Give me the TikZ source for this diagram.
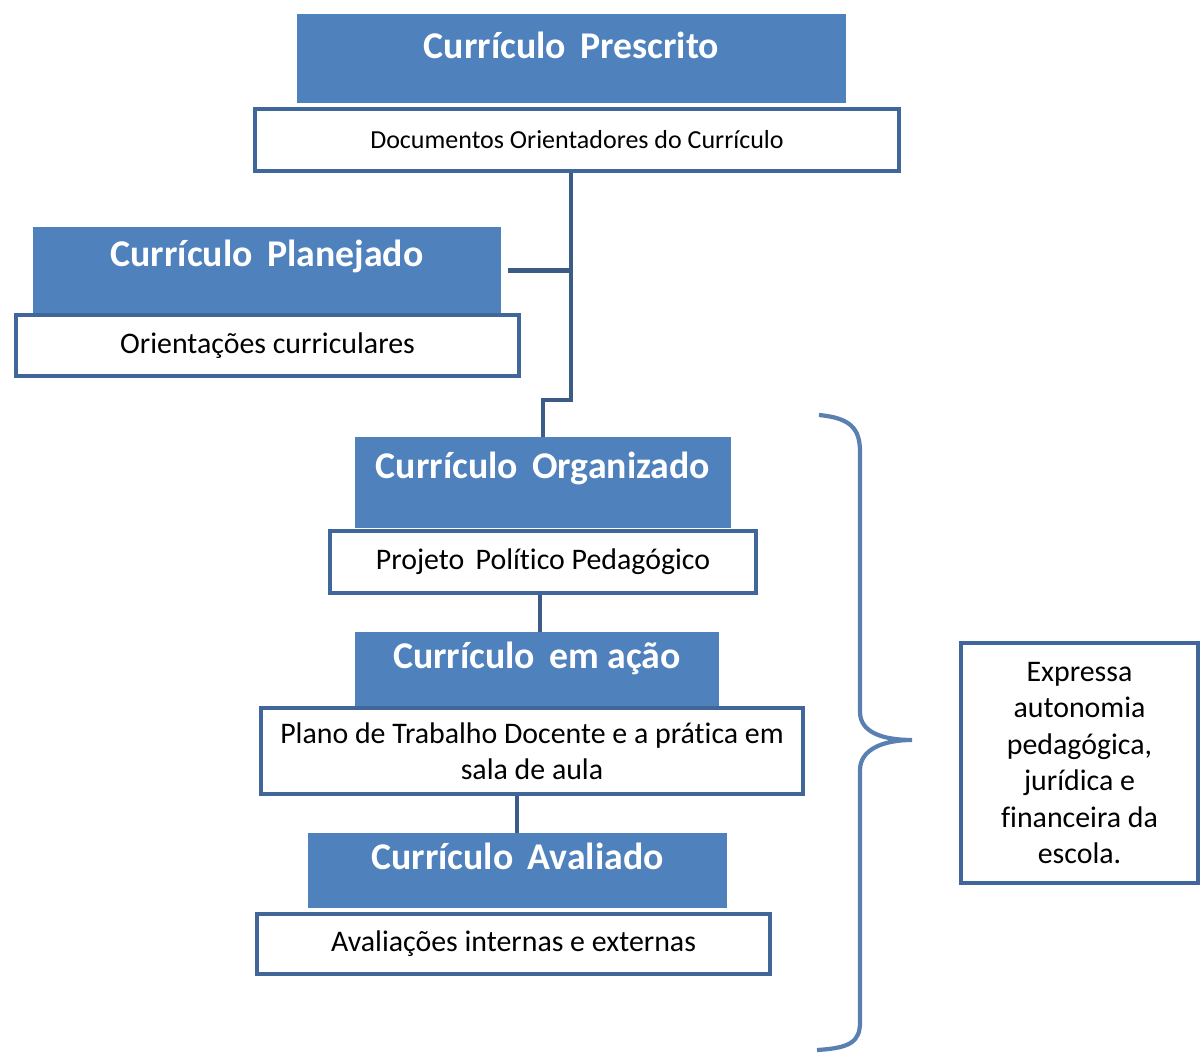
\documentclass[tikz,border=0pt]{standalone}
\usepackage{fontspec}
\setmainfont{Carlito}[Ligatures=NoCommon]
\usepackage{tikz}

\definecolor{headblue}{HTML}{4F81BD}
\definecolor{edgeblue}{HTML}{41679A}
\definecolor{linkblue}{HTML}{3C5C86}
\definecolor{braceblue}{HTML}{5A80B2}

\newcommand{\gap}{\hspace{0.38em}}

\begin{document}
\begin{tikzpicture}[x=0.02cm,y=-0.02cm,
		head/.style={fill=headblue,draw=none,inner sep=0pt},
		headtext/.style={text=white,font=\fontsize{21.5}{24}\selectfont\bfseries},
		sub/.style={fill=white,draw=edgeblue,line width=2.3pt,inner sep=2pt,align=center,
			font=\fontsize{17}{20.5}\selectfont},
		link/.style={draw=linkblue,line width=2.4pt}]
		\useasboundingbox (0,0) rectangle (1202,1053);
		% blue headers
		\node[head,minimum width=10.98cm,minimum height=1.78cm,
			label={[headtext,yshift=0.26cm]center:Currículo\gap Prescrito}] (pres) at (571.5,58.5) {};
		\node[head,minimum width=9.36cm,minimum height=1.74cm,
			label={[headtext,yshift=0.28cm]center:Currículo\gap Planejado}] (plan) at (267,270.5) {};
		\node[head,minimum width=7.52cm,minimum height=1.82cm,
			label={[headtext,yshift=0.28cm]center:Currículo\gap Organizado}] (org) at (543,482.5) {};
		\node[head,minimum width=7.28cm,minimum height=1.48cm,
			label={[headtext,yshift=0.22cm]center:Currículo\gap em ação}] (acao) at (537,669) {};
		\node[head,minimum width=8.38cm,minimum height=1.50cm,
			label={[headtext,yshift=0.28cm]center:Currículo\gap Avaliado}] (aval) at (517.5,870.5) {};
		% white boxes
		\node[sub,minimum width=12.88cm,minimum height=1.24cm,font=\fontsize{14.8}{18}\selectfont] (doc) at (577,140) {Documentos Orientadores do Currículo};
		\node[sub,minimum width=10.06cm,minimum height=1.22cm] (ori) at (267.5,345.5) {Orientações curriculares};
		\node[sub,minimum width=8.52cm,minimum height=1.24cm] (ppp) at (543,562) {Projeto\gap Político Pedagógico};
		\node[sub,minimum width=10.84cm,minimum height=1.72cm] (plano) at (532,751) {Plano de Trabalho Docente e a prática em\\sala de aula};
		\node[sub,minimum width=10.26cm,minimum height=1.20cm] (avi) at (513.5,944) {Avaliações internas e externas};
		\node[sub,minimum width=4.74cm,minimum height=4.80cm,font=\fontsize{17}{20.7}\selectfont] (expr) at (1079.5,763)
			{Expressa\\autonomia\\pedagógica,\\jurídica e\\financeira da\\escola.};
		% connectors
		\coordinate (spine) at (571,400);
		\draw[link] (spine |- doc.south) -- (spine) -| (org.north);
		\draw[link] ([xshift=0.14cm]plan.east) -- (plan.east -| spine);
		\draw[link] (ppp.south -| 540,0) -- (acao.north -| 540,0);
		\draw[link] (plano.south -| 517,0) -- (aval.north -| 517,0);
		% brace
		\draw[draw=braceblue,line width=2.4pt]
			(819,415) .. controls (850,418) and (860,428) .. (860,452) -- (860,712)
			.. controls (860,732) and (882,740) .. (912,740)
			.. controls (882,740) and (860,750) .. (860,770) -- (860,1022)
			.. controls (860,1042) and (850,1048) .. (817,1050);
\end{tikzpicture}
\end{document}
